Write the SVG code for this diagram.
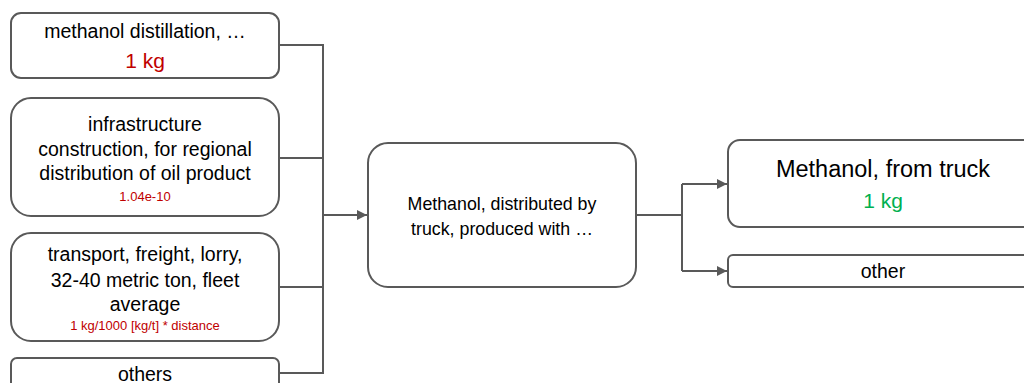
<svg xmlns="http://www.w3.org/2000/svg" width="1024" height="383" viewBox="0 0 1024 383">
  <style>
    .box { fill: #ffffff; stroke: #595959; stroke-width: 2; }
    .wire { fill: none; stroke: #595959; stroke-width: 2; }
    text { font-family: "Liberation Sans", Arial, sans-serif; text-anchor: middle; fill: #000000; }
    .lbl { font-size: 19.5px; }
    .mid { font-size: 17.8px; }
    .big { font-size: 23.5px; }
    .qty { font-size: 21px; }
    .red { fill: #c00000; }
    .green { fill: #00b050; }
    .small { font-size: 13px; }
  </style>
  <defs>
    <marker id="arrow" viewBox="0 0 10 10" refX="10" refY="5" markerWidth="5" markerHeight="5" orient="auto" markerUnits="strokeWidth">
      <path d="M0,0 L10,5 L0,10 Z" fill="#595959"/>
    </marker>
  </defs>

  <!-- connectors -->
  <g id="connectors">
    <path class="wire" d="M279,45 H323 V373 H279"/>
    <path class="wire" d="M279,158 H323"/>
    <path class="wire" d="M279,287 H323"/>
    <path class="wire" d="M323,215 H367" marker-end="url(#arrow)"/>
    <path class="wire" d="M636,215 H682"/>
    <path class="wire" d="M682,184 V271"/>
    <path class="wire" d="M682,184 H727" marker-end="url(#arrow)"/>
    <path class="wire" d="M682,271 H727" marker-end="url(#arrow)"/>
  </g>

  <!-- input: methanol distillation -->
  <g id="node-distillation">
    <rect class="box" x="11" y="13" width="268" height="65" rx="10"/>
    <text class="lbl" x="145" y="38">methanol distillation, …</text>
    <text class="qty red" x="145" y="68">1 kg</text>
  </g>

  <!-- input: infrastructure -->
  <g id="node-infrastructure">
    <rect class="box" x="11" y="98" width="268" height="118" rx="20"/>
    <text class="lbl" x="145" y="131">infrastructure</text>
    <text class="lbl" x="145" y="156">construction, for regional</text>
    <text class="lbl" x="145" y="180">distribution of oil product</text>
    <text class="small red" x="145" y="201">1.04e-10</text>
  </g>

  <!-- input: transport -->
  <g id="node-transport">
    <rect class="box" x="11" y="233" width="268" height="108" rx="20"/>
    <text class="lbl" x="145" y="261">transport, freight, lorry,</text>
    <text class="lbl" x="145" y="287">32-40 metric ton, fleet</text>
    <text class="lbl" x="145" y="311">average</text>
    <text class="small red" x="145" y="330">1 kg/1000 [kg/t] * distance</text>
  </g>

  <!-- input: others -->
  <g id="node-others">
    <rect class="box" x="11" y="358" width="268" height="40" rx="6"/>
    <text class="lbl" x="145" y="381">others</text>
  </g>

  <!-- process -->
  <g id="node-process">
    <rect class="box" x="368" y="143" width="268" height="144" rx="20"/>
    <text class="mid" x="502" y="210">Methanol, distributed by</text>
    <text class="mid" x="502" y="235">truck, produced with …</text>
  </g>

  <!-- output: methanol from truck -->
  <g id="node-product">
    <rect class="box" x="728" y="140" width="310" height="87" rx="12"/>
    <text class="big" x="883" y="177">Methanol, from truck</text>
    <text class="qty green" x="883" y="208">1 kg</text>
  </g>

  <!-- output: other -->
  <g id="node-other">
    <rect class="box" x="728" y="255" width="310" height="32" rx="5"/>
    <text class="lbl" x="883" y="278">other</text>
  </g>
</svg>
